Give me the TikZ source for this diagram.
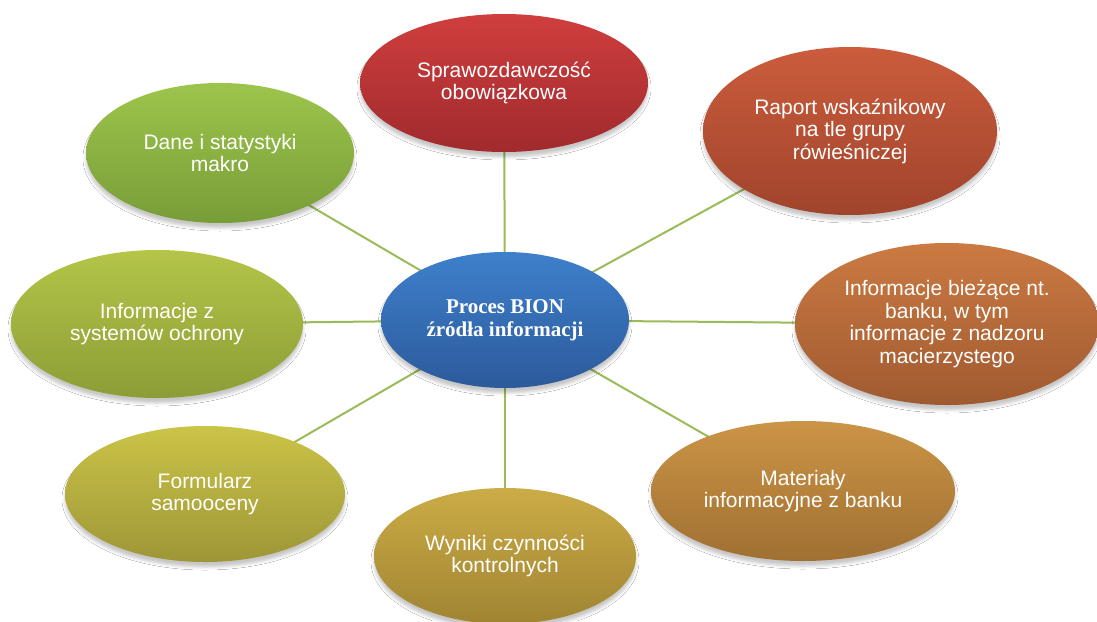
\documentclass[tikz,border=0pt]{standalone}
\usepackage{fontspec}
\setmainfont{Liberation Sans}
\newfontfamily\centrefont{Liberation Serif}
\usetikzlibrary{shapes.geometric,shadows.blur,backgrounds}
\definecolor{linkgreen}{RGB}{155,187,89}
\definecolor{redT}{RGB}{208,62,62}\definecolor{redB}{RGB}{160,42,45}
\definecolor{rapT}{RGB}{203,92,60}\definecolor{rapB}{RGB}{160,68,44}
\definecolor{infT}{RGB}{203,122,66}\definecolor{infB}{RGB}{160,90,48}
\definecolor{matT}{RGB}{203,148,70}\definecolor{matB}{RGB}{160,112,50}
\definecolor{wynT}{RGB}{203,172,70}\definecolor{wynB}{RGB}{160,132,50}
\definecolor{forT}{RGB}{202,196,72}\definecolor{forB}{RGB}{158,150,55}
\definecolor{sysT}{RGB}{180,197,72}\definecolor{sysB}{RGB}{140,157,55}
\definecolor{danT}{RGB}{157,197,76}\definecolor{danB}{RGB}{120,157,56}
\definecolor{bluT}{RGB}{62,128,204}\definecolor{bluB}{RGB}{44,90,155}
\tikzset{
  bubble/.style={ellipse, inner sep=0pt, text=white, align=center,
    font=\fontsize{21}{22.5}\selectfont,
    blur shadow={shadow xshift=0pt, shadow yshift=-5pt, shadow blur radius=3pt, shadow opacity=22}},
  link/.style={draw=linkgreen, line width=2pt}
}
\begin{document}
\begin{tikzpicture}[x=1pt,y=-1pt]
\useasboundingbox (0,0) rectangle (1097,621);
\node[bubble, top color=bluT, bottom color=bluB, minimum width=248pt, minimum height=136pt,
  font=\centrefont\bfseries\fontsize{21}{23}\selectfont] (c) at (505,320) {Proces BION\\źródła informacji};
\node[bubble, top color=redT, bottom color=redB, minimum width=288pt, minimum height=138pt] (spr) at (504,83) {Sprawozdawczość\\obowiązkowa};
\node[bubble, top color=rapT, bottom color=rapB, minimum width=294pt, minimum height=168pt] (rap) at (850,131) {Raport wskaźnikowy\\na tle grupy\\rówieśniczej};
\node[bubble, top color=infT, bottom color=infB, minimum width=304pt, minimum height=162pt] (inf) at (947,324) {Informacje bieżące nt.\\banku, w tym\\informacje z nadzoru\\macierzystego};
\node[bubble, top color=matT, bottom color=matB, minimum width=304pt, minimum height=140pt] (mat) at (803,491) {Materiały\\informacyjne z banku};
\node[bubble, top color=wynT, bottom color=wynB, minimum width=262pt, minimum height=136pt] (wyn) at (505,556) {Wyniki czynności\\kontrolnych};
\node[bubble, top color=forT, bottom color=forB, minimum width=280pt, minimum height=136pt] (for) at (205,494) {Formularz\\samooceny};
\node[bubble, top color=sysT, bottom color=sysB, minimum width=292pt, minimum height=148pt] (sys) at (157,324) {Informacje z\\systemów ochrony};
\node[bubble, top color=danT, bottom color=danB, minimum width=268pt, minimum height=140pt] (dan) at (220,153) {Dane i statystyki\\makro};
\begin{scope}[on background layer]
\fill[white] (0,0) rectangle (1097,621);
\foreach \n in {spr,rap,inf,mat,wyn,for,sys,dan}
  \draw[link] (c.center) -- (\n.center);
\end{scope}
\end{tikzpicture}
\end{document}
